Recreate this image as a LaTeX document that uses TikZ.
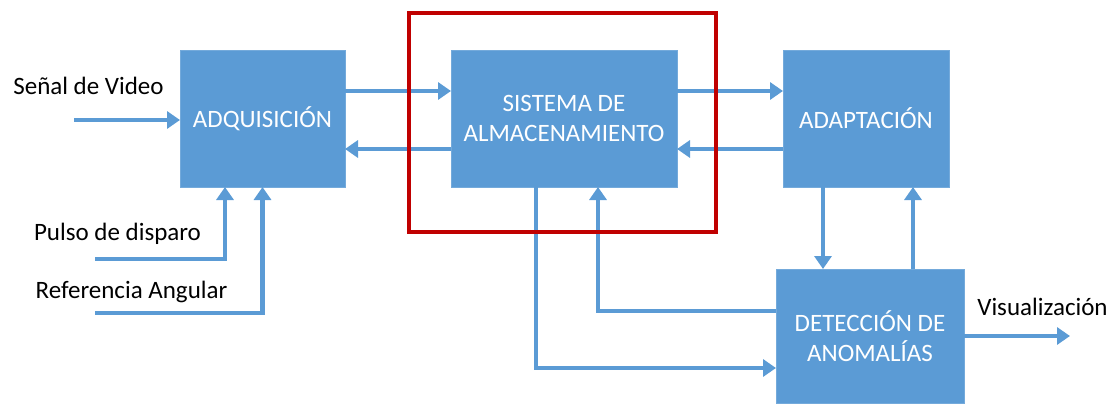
\documentclass[tikz,border=0pt]{standalone}
\usepackage{fontspec}
\setmainfont{Carlito}
\usepackage{tikz}
\usetikzlibrary{arrows.meta, positioning}
\definecolor{azul}{HTML}{5B9BD5}
\definecolor{rojo}{HTML}{C00000}
\tikzstyle{bloque} = [rectangle, minimum width=165pt, minimum height=137pt, inner sep=0pt, outer sep=0pt, text centered, align=center, draw=azul!85!white, fill=azul, text=white, font=\fontsize{25}{30}\selectfont]
\tikzstyle{etiqueta} = [anchor=base, text=black, font=\fontsize{25}{30}\selectfont]
\tikzstyle{arrow} = [draw=azul, line width=4.5pt, -{Triangle[length=13pt, width=17pt]}]
\tikzstyle{marco} = [draw=rojo, line width=3.2pt]

\begin{document}
\begin{tikzpicture}[x=1pt, y=-1pt, node distance=106pt]
    \useasboundingbox (0,0) rectangle (1111,404);

        \node (adq) [bloque] at (262.5,118.5) {ADQUISICIÓN};
        \node (sis) [bloque, minimum width=226pt, right=of adq] {SISTEMA DE\\ALMACENAMIENTO};
        \node (adap) [bloque, minimum width=166pt, right=of sis] {ADAPTACIÓN};
        \node (det) [bloque, minimum width=188pt, minimum height=134pt, below=82pt of adap, xshift=4pt] {DETECCIÓN DE\\ANOMALÍAS};

        \node (video) [etiqueta] at (88.5,95) {Señal de Video};
        \node (pulso) [etiqueta] at (117.5,240) {Pulso de disparo};
        \node (ref) [etiqueta] at (131.5,298) {Referencia Angular};
        \node (vis) [etiqueta] at (1042.5,315) {Visualización};

        \coordinate (vin) at (74,120);
        \coordinate (pin) at (95,259);
        \coordinate (rin) at (95,313);
        \coordinate (vout) at (1070,336);

        \draw [arrow] (vin) -- (adq.west |- vin);
        \draw [arrow] (pin) -| ([xshift=-37.5pt]adq.south);
        \draw [arrow] (rin) -| (adq.south);
        \draw [arrow] ([yshift=27.5pt]adq.east) -- ([yshift=27.5pt]sis.west);
        \draw [arrow] ([yshift=-30.5pt]sis.west) -- ([yshift=-30.5pt]adq.east);
        \draw [arrow] ([yshift=27.5pt]sis.east) -- ([yshift=27.5pt]adap.west);
        \draw [arrow] ([yshift=-30.5pt]adap.west) -- ([yshift=-30.5pt]sis.east);
        \draw [arrow] ([xshift=-43pt]adap.south) -- ([xshift=-43pt]adap.south |- det.north);
        \draw [arrow] ([xshift=47pt]adap.south |- det.north) -- ([xshift=47pt]adap.south);
        \draw [arrow] ([yshift=25pt]det.west) -| ([xshift=34pt]sis.south);
        \draw [arrow] ([xshift=-28pt]sis.south) |- ([yshift=-32pt]det.west);
        \draw [arrow] (det.east) -- (vout);

        \draw [marco] (409,13) rectangle (716,232);

    \end{tikzpicture}
\end{document}
